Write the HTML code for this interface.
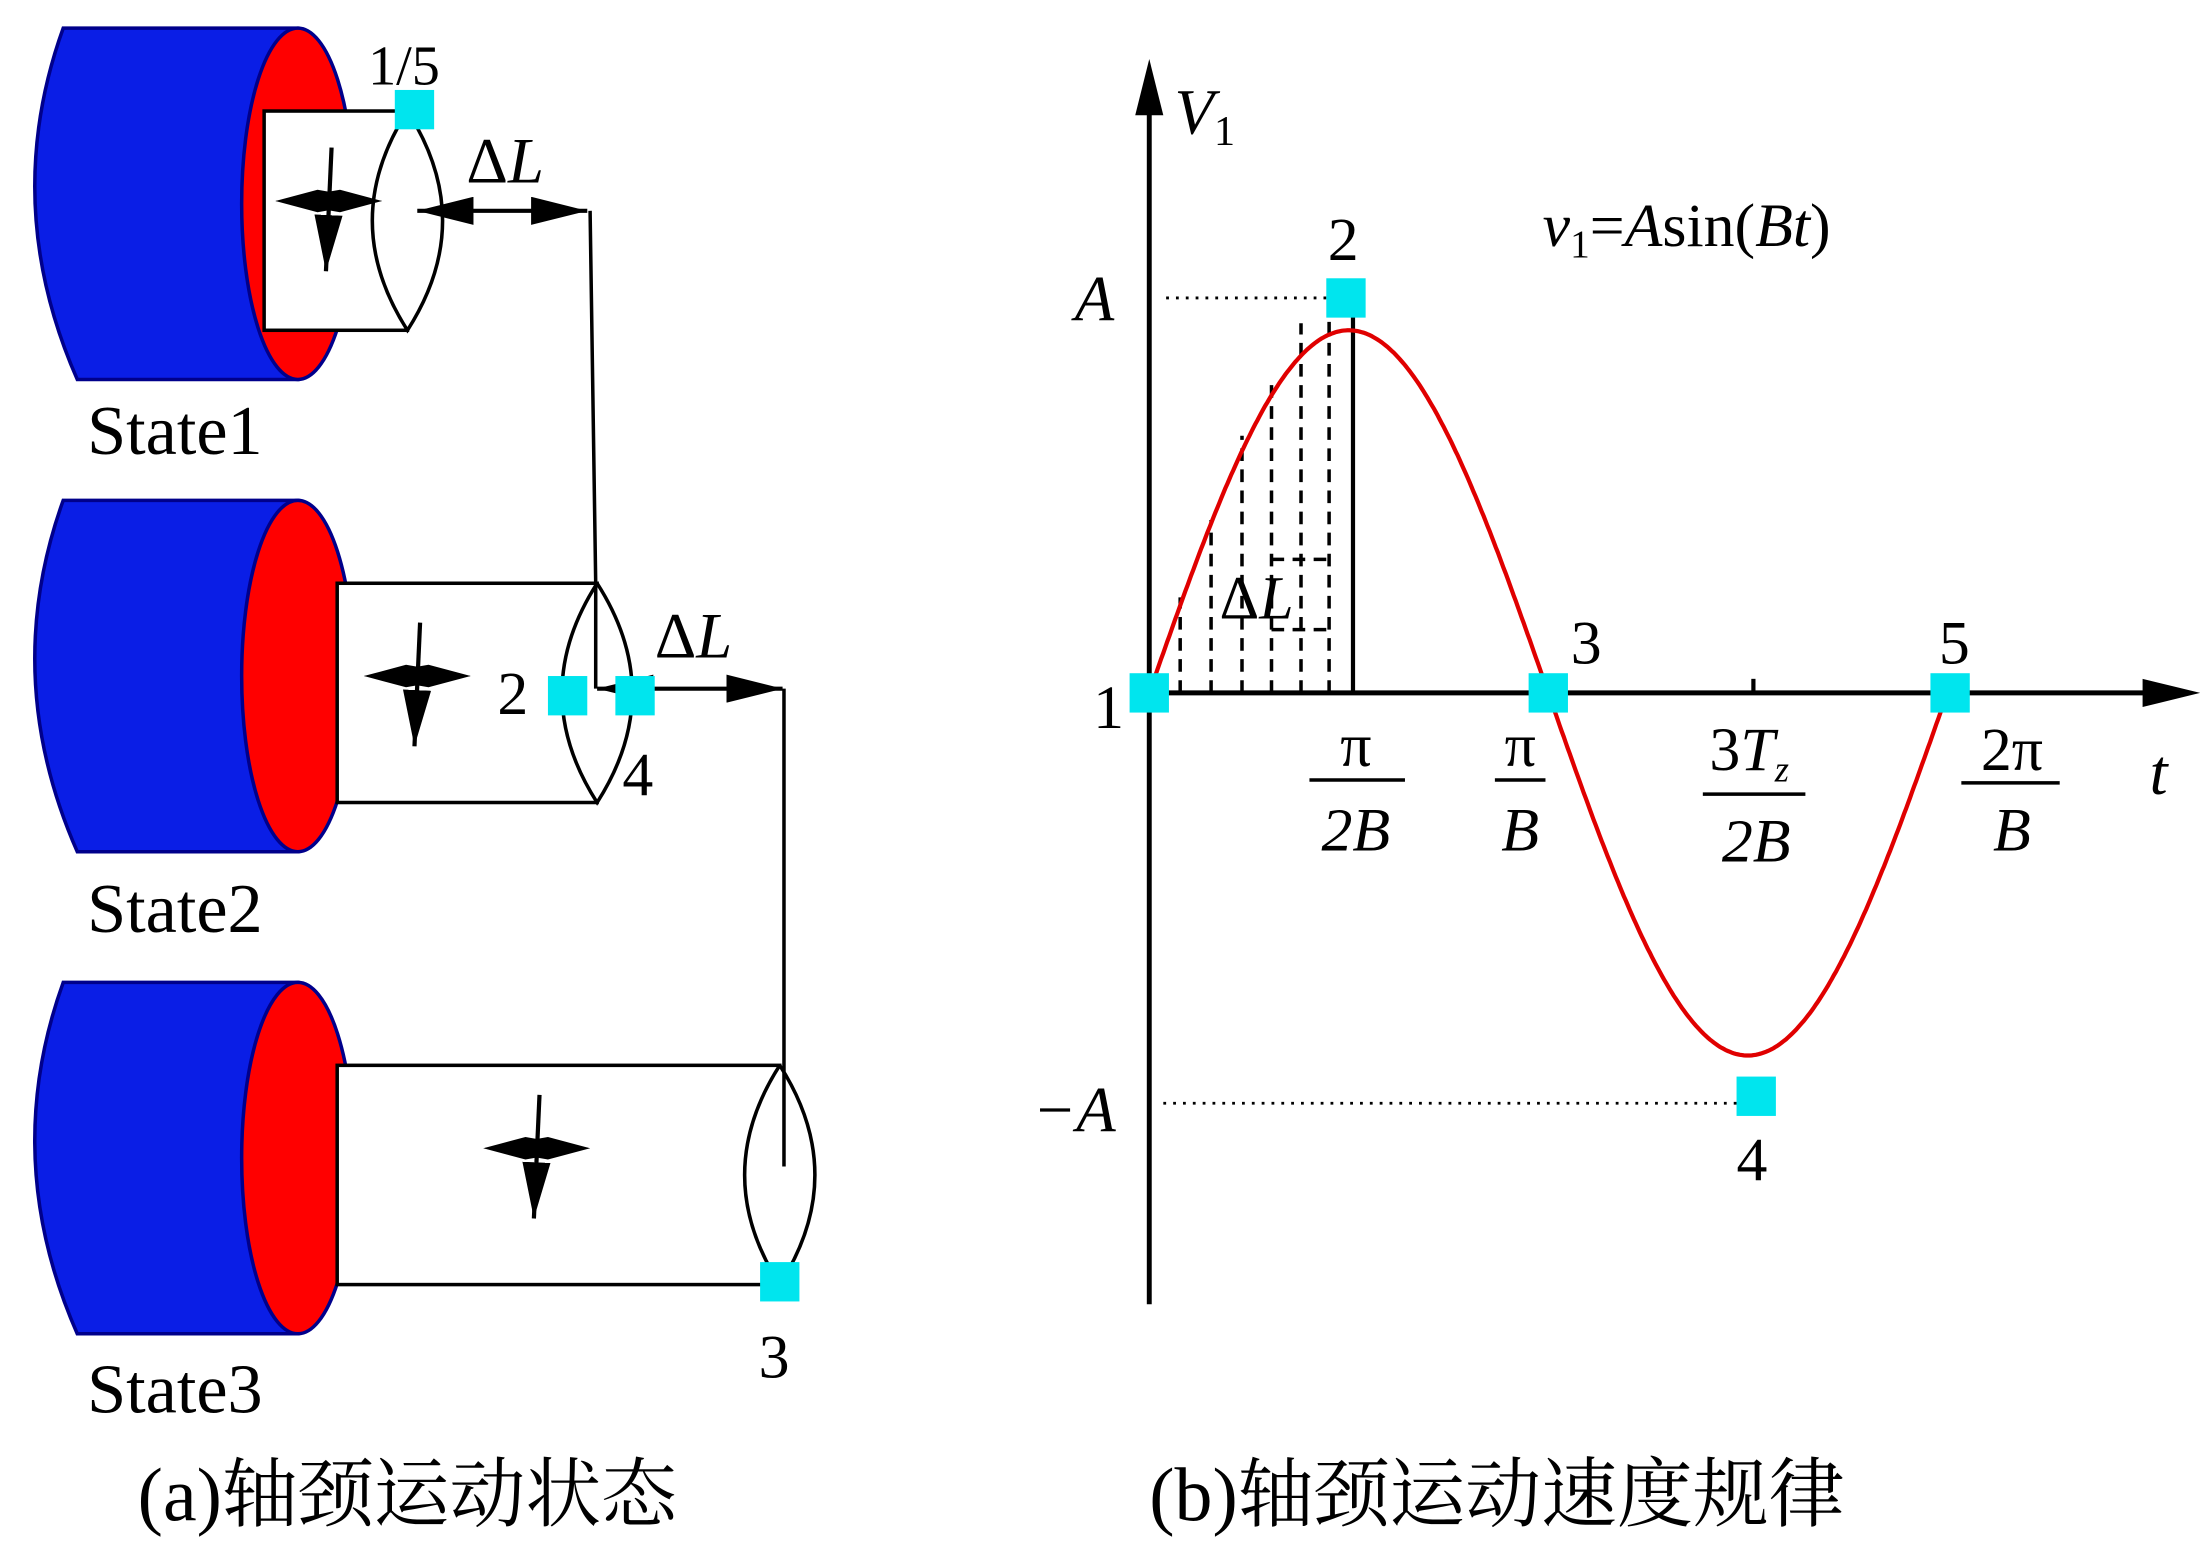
<!DOCTYPE html>
<html><head><meta charset="utf-8"><style>
html,body{margin:0;padding:0;background:#fff;}
svg{display:block;}
text{font-family:"Liberation Serif","Noto Serif CJK SC",serif;fill:#000;}
</style></head><body>
<svg id="s" width="2203" height="1546" viewBox="0 0 1568 1100" preserveAspectRatio="none" xmlns="http://www.w3.org/2000/svg">
<defs>
<marker id="big" viewBox="0 0 40 20" refX="40" refY="10" markerWidth="40" markerHeight="20" orient="auto" markerUnits="userSpaceOnUse"><path d="M0,0 L40,10 L0,20 z" fill="#000"/></marker>
<marker id="bigs" viewBox="0 0 40 20" refX="0" refY="10" markerWidth="40" markerHeight="20" orient="auto" markerUnits="userSpaceOnUse"><path d="M40,0 L0,10 L40,20 z" fill="#000"/></marker>
</defs>
<g id="left" stroke-width="2.5"></g>
<text x="62" y="323" font-size="50">State1</text>
<text x="62" y="663" font-size="50">State2</text>
<text x="62" y="1005" font-size="50">State3</text>
<text x="98" y="1082" font-size="54">(a)轴颈运动状态</text>
<text x="262" y="60" font-size="40">1/5</text>
<text x="332" y="130" font-size="46">Δ<tspan font-style="italic">L</tspan></text>
<text x="466" y="468" font-size="46">Δ<tspan font-style="italic">L</tspan></text>
<text x="354" y="508" font-size="44">2</text>
<text x="443" y="566" font-size="44">4</text>
<text x="540" y="980" font-size="44">3</text>

<line x1="818" y1="60" x2="818" y2="928" stroke="#000" stroke-width="3.5"/>
<path d="M808,82 L818,42 L828,82 z" fill="#000"/>
<line x1="818" y1="493" x2="1535" y2="493" stroke="#000" stroke-width="3.5"/>
<path d="M1525,483 L1566,493 L1525,503 z" fill="#000"/>
<line x1="1248" y1="483" x2="1248" y2="493" stroke="#000" stroke-width="3"/>
<line x1="963" y1="212" x2="963" y2="493" stroke="#000" stroke-width="3"/>
<line x1="830" y1="212" x2="945" y2="212" stroke="#000" stroke-width="2" stroke-dasharray="2,5"/>
<line x1="828" y1="785" x2="1238" y2="785" stroke="#000" stroke-width="2" stroke-dasharray="2,5"/>
<g stroke="#000" stroke-width="2.5" stroke-dasharray="9,6">
<line x1="840" y1="493" x2="840" y2="425"/>
<line x1="862" y1="493" x2="862" y2="370"/>
<line x1="884" y1="493" x2="884" y2="310"/>
<line x1="905" y1="493" x2="905" y2="268"/>
<line x1="926" y1="493" x2="926" y2="230"/>
<line x1="946" y1="493" x2="946" y2="215"/>
<line x1="905" y1="398" x2="946" y2="398"/>
<line x1="905" y1="448" x2="946" y2="448"/>
</g>
<path id="sine" fill="none" stroke="#e00000" stroke-width="3"/>
<g fill="#00e5ee">
<rect x="804" y="479" width="28" height="28"/>
<rect x="944" y="198" width="28" height="28"/>
<rect x="1088" y="479" width="28" height="28"/>
<rect x="1236" y="766" width="28" height="28"/>
<rect x="1374" y="479" width="28" height="28"/>
</g>
<text x="836" y="95" font-size="46" font-style="italic">V<tspan font-size="30" font-style="normal" dy="8">1</tspan></text>
<text x="1530" y="565" font-size="46" font-style="italic">t</text>
<text x="765" y="228" font-size="46" font-style="italic">A</text>
<text x="735" y="805" font-size="46" font-style="italic">−A</text>
<text x="778" y="518" font-size="44">1</text>
<text x="945" y="185" font-size="44">2</text>
<text x="1118" y="472" font-size="44">3</text>
<text x="1380" y="472" font-size="44">5</text>
<text x="1236" y="840" font-size="44">4</text>
<text x="1098" y="175" font-size="44"><tspan font-style="italic">v</tspan><tspan font-size="28" dy="8">1</tspan><tspan dy="-8">=</tspan><tspan font-style="italic">A</tspan>sin(<tspan font-style="italic">Bt</tspan>)</text>
<text x="868" y="440" font-size="44">Δ<tspan font-style="italic">L</tspan></text>
<g font-size="44" text-anchor="middle">
<text x="965" y="545">π</text><line x1="932" y1="555" x2="1000" y2="555" stroke="#000" stroke-width="2.5"/><text x="965" y="605" font-style="italic">2B</text>
<text x="1082" y="545">π</text><line x1="1064" y1="555" x2="1100" y2="555" stroke="#000" stroke-width="2.5"/><text x="1082" y="605" font-style="italic">B</text>
<text x="1245" y="548">3<tspan font-style="italic">T</tspan><tspan font-size="26" font-style="italic" dy="8">z</tspan></text><line x1="1212" y1="565" x2="1285" y2="565" stroke="#000" stroke-width="2.5"/><text x="1250" y="613" font-style="italic">2B</text>
<text x="1432" y="548">2π</text><line x1="1396" y1="557" x2="1466" y2="557" stroke="#000" stroke-width="2.5"/><text x="1432" y="605" font-style="italic">B</text>
</g>
<text x="818" y="1082" font-size="54">(b)轴颈运动速度规律</text>
</svg>
<script>
(function(){
var ns="http://www.w3.org/2000/svg",g=document.getElementById("left");
function el(t,a){var e=document.createElementNS(ns,t);for(var k in a)e.setAttribute(k,a[k]);g.appendChild(e);return e;}
function drum(cy,shx,lensx){
 var top=cy-125,bot=cy+125;
 el("path",{d:"M45,"+top+" L212,"+top+" L212,"+bot+" L55,"+bot+" Q0,"+cy+" 45,"+top+" z",fill:"#0a1ee6",stroke:"#00008b","stroke-width":2.5});
 el("ellipse",{cx:212,cy:cy,rx:40,ry:125,fill:"#ff0000",stroke:"#00008b","stroke-width":2.5});
 var st=cy-66,sb=cy+90;
 el("rect",{x:shx,y:st,width:lensx-shx,height:sb-st,fill:"#fff",stroke:"#000","stroke-width":2.5});
 el("path",{d:"M"+lensx+","+st+" Q"+(lensx+50)+","+((st+sb)/2)+" "+lensx+","+sb+" Q"+(lensx-50)+","+((st+sb)/2)+" "+lensx+","+st,fill:"#fff",stroke:"#000","stroke-width":2.5});
}
function cross(x,y){
 el("path",{d:"M"+(x-38)+","+y+" L"+(x-8)+","+(y-8)+" L"+(x+38)+","+y+" L"+(x-8)+","+(y+8)+" z",fill:"#000"});
 el("path",{d:"M"+(x-38)+","+y+" L"+(x+8)+","+(y-8)+" L"+(x+38)+","+y+" L"+(x+8)+","+(y+8)+" z",fill:"#000"});
 el("line",{x1:x+2,y1:y-38,x2:x-2,y2:y+50,stroke:"#000","stroke-width":3,"marker-end":"url(#big)"});
}
drum(145,188,290);cross(234,143);
drum(481,240,425);cross(297,481);
drum(824,240,555);cross(382,817);
el("line",{x1:297,y1:150,x2:418,y2:150,stroke:"#000","stroke-width":3,"marker-end":"url(#big)","marker-start":"url(#bigs)"});
el("polyline",{points:"420,150 424,415 424,490",fill:"none",stroke:"#000","stroke-width":2.5});
el("line",{x1:425,y1:490,x2:557,y2:490,stroke:"#000","stroke-width":3,"marker-end":"url(#big)","marker-start":"url(#bigs)"});
el("line",{x1:558,y1:490,x2:558,y2:830,stroke:"#000","stroke-width":2.5});
[[281,64],[390,481],[438,481],[541,898]].forEach(function(p){el("rect",{x:p[0],y:p[1],width:28,height:28,fill:"#00e5ee"});});
var d="";for(var i=0;i<=400;i++){var x=818+i*570/400;var y=493-258*Math.sin((x-818)/284*Math.PI);d+=(i?"L":"M")+x.toFixed(1)+","+y.toFixed(1);}
document.getElementById("sine").setAttribute("d",d);
})();
</script>
</body></html>
